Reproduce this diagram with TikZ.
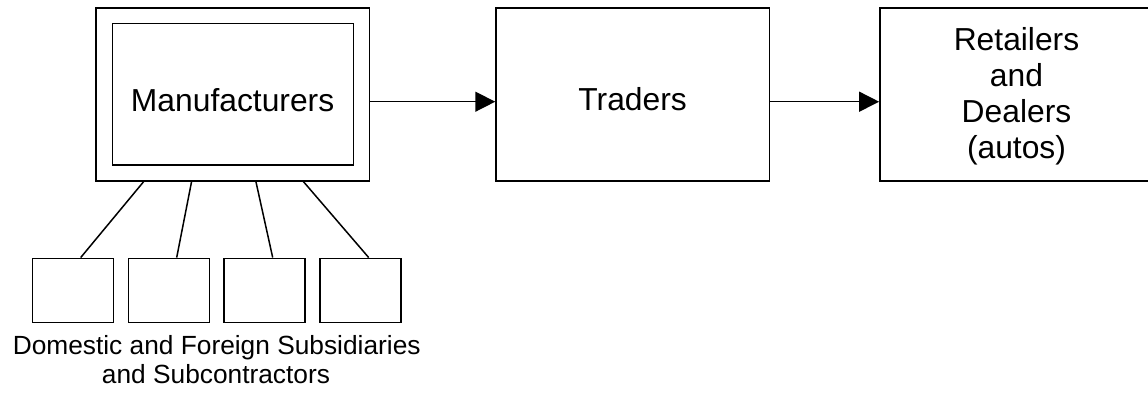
\documentclass[tikz,border=0pt]{standalone}
\usepackage{fontspec}
\setmainfont{Liberation Sans}
\usetikzlibrary{arrows.meta}
\begin{document}
\begin{tikzpicture}[x=1pt,y=-1pt,
  box/.style={draw,line width=1.5pt,inner sep=0pt,minimum width=#1},
  bigfont/.style={font=\fontsize{31.8}{36.2}\selectfont},
  smallfont/.style={font=\fontsize{26.3}{29}\selectfont},
  lbl/.style={anchor=base,inner sep=0pt},
  conn/.style={line width=1.5pt},
  arr/.style={line width=1.5pt,-{Triangle[length=20pt,width=20pt]}}]
\useasboundingbox (0,0) rectangle (1148,392);
% boxes
\node[box=273.3pt,minimum height=173pt] (mo) at (232.65,94.5) {};
\node[box=241pt,minimum height=141.7pt] (mi) at (232.8,94.15) {};
\node[box=273.3pt,minimum height=173pt] (tr) at (632.65,94.5) {};
\node[box=273.3pt,minimum height=173pt] (re) at (1016.5,94.5) {};
% small boxes
\node[box=81pt,minimum height=64pt] (s1) at (72.8,290.3) {};
\node[box=81pt,minimum height=64pt] (s2) at (168.8,290.3) {};
\node[box=81pt,minimum height=64pt] (s3) at (264.5,290.3) {};
\node[box=81pt,minimum height=64pt] (s4) at (360.5,290.3) {};
% labels
\node[lbl,bigfont] (tm) at (232.6,111) {Manufacturers};
\node[lbl,bigfont] (tt) at (632.6,110.7) {Traders};
\node[lbl,bigfont] (tr1) at (1016.5,50) {Retailers};
\node[lbl,bigfont] (tr2) at (1016.5,86.2) {and};
\node[lbl,bigfont] (tr3) at (1016.5,122.4) {Dealers};
\node[lbl,bigfont] (tr4) at (1016.5,158.6) {(autos)};
\node[lbl,smallfont] (ts1) at (216.7,354.3) {Domestic and Foreign Subsidiaries};
\node[lbl,smallfont] (ts2) at (216,383.3) {and Subcontractors};
% arrows
\draw[arr] (mo.east |- 0,101.7) -- (tr.west |- 0,101.7);
\draw[arr] (tr.east |- 0,101.7) -- (re.west |- 0,101.7);
% connectors to subsidiaries
\draw[conn] ([xshift=48.3pt]mo.south west) -- ([xshift=7.9pt]s1.north);
\draw[conn] ([xshift=96.3pt]mo.south west) -- ([xshift=7.9pt]s2.north);
\draw[conn] ([xshift=160.7pt]mo.south west) -- ([xshift=8.2pt]s3.north);
\draw[conn] ([xshift=208.3pt]mo.south west) -- ([xshift=8.2pt]s4.north);
\end{tikzpicture}
\end{document}
